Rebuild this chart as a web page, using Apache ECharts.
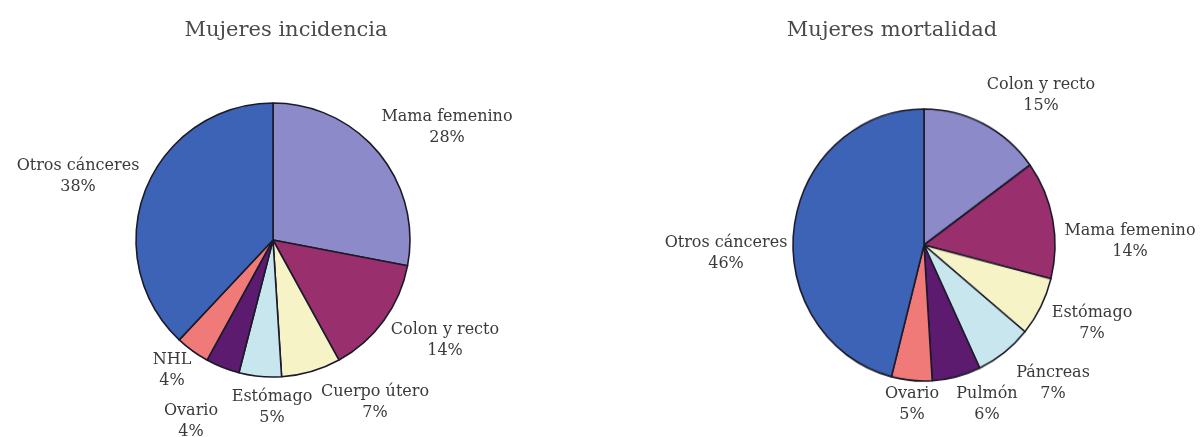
<!DOCTYPE html>
<html>
<head>
<meta charset="utf-8">
<script src="https://cdn.jsdelivr.net/npm/echarts@6/dist/echarts.min.js"></script>
<style>
  html, body { margin: 0; padding: 0; background: #ffffff; }
  #wrap { position: relative; width: 1202px; height: 437px; }
  #chart, #tartaDer { position: absolute; left: 0; top: 0; width: 1202px; height: 437px; }
</style>
</head>
<body>
<div id="wrap">
  <div id="chart"></div>
  <div id="tartaDer"></div>
</div>
<script>
// Incidencia (mujeres): slices clockwise from 12 o'clock
const incidenciaCategorias = ['Mama femenino', 'Colon y recto', 'Cuerpo útero', 'Estómago', 'Ovario', 'NHL', 'Otros cánceres'];
const incidenciaValores = [28, 14, 7, 5, 4, 4, 38];

// Mortalidad (mujeres): slices clockwise from 12 o'clock
const mortalidadCategorias = ['Colon y recto', 'Mama femenino', 'Estómago', 'Páncreas', 'Pulmón', 'Ovario', 'Otros cánceres'];
const mortalidadValores = [15, 14, 7, 7, 6, 5, 46];

const titulos = ['Mujeres incidencia', 'Mujeres mortalidad'];

// Slice fill colours, applied in slice order
const coloresPorciones = ['#8c8ac8', '#9a2f6e', '#f6f3c6', '#c8e6ee', '#5c1b6e', '#ef7a78', '#3c63b5'];

// Pie geometry (pixels); the right pie is drawn slightly taller than wide
const pieIzq = { cx: 273, cy: 240, r: 137, sy: 1 };
const pieDer = { cx: 924, cy: 245, r: 131, sy: 136 / 131 };

// Label block offsets from each pie's centre (pixels)
const etiquetasIzq = [[174, -113], [172, 100], [102, 162], [-1, 167], [-82, 181], [-101, 130], [-195, -64]];
const etiquetasDer = [[117, -150], [206, -4], [168, 78], [129, 138], [63, 159], [-12, 159], [-198, 8]];

const fuente = '"DejaVu Serif", "Liberation Serif", serif';

function serieTarta(cats, vals, geo, offsets, modo) {
  const conPorciones = modo !== 'soloEtiquetas';
  const conEtiquetas = modo !== 'soloPorciones';
  return {
    type: 'pie',
    center: [geo.cx, geo.cy],
    radius: [0, geo.r],
    startAngle: 90,
    clockwise: true,
    avoidLabelOverlap: false,
    animation: false,
    silent: true,
    itemStyle: conPorciones
      ? { borderColor: '#1c1a2a', borderWidth: 1.6 }
      : { borderWidth: 0, opacity: 0 },
    label: {
      show: conEtiquetas,
      position: 'outside',
      formatter: '{b}\n{c}%',
      fontFamily: fuente,
      fontSize: 16,
      lineHeight: 21,
      color: '#3a3a3a',
      align: 'center',
      opacity: 1
    },
    labelLine: { show: false },
    labelLayout: function (p) {
      const o = offsets[p.dataIndex];
      return { x: geo.cx + o[0], y: geo.cy + o[1], align: 'center', verticalAlign: 'middle' };
    },
    data: cats.map(function (c, i) {
      return {
        name: c,
        value: vals[i],
        itemStyle: { color: conPorciones ? coloresPorciones[i] : 'rgba(0,0,0,0)' },
        label: { color: '#3a3a3a' }
      };
    })
  };
}

const estiloTitulo = { fontFamily: fuente, fontSize: 21, fontWeight: 'normal', color: '#4a4a4a' };

// Main canvas: titles, left pie with labels, labels of the right pie
const chart = echarts.init(document.getElementById('chart'), null, { renderer: 'canvas' });
chart.setOption({
  backgroundColor: '#ffffff',
  title: [
    { text: titulos[0], left: 281, top: 15, textAlign: 'center', textStyle: estiloTitulo },
    { text: titulos[1], left: 887, top: 15, textAlign: 'center', textStyle: estiloTitulo }
  ],
  series: [
    serieTarta(incidenciaCategorias, incidenciaValores, pieIzq, etiquetasIzq, 'completa'),
    serieTarta(mortalidadCategorias, mortalidadValores, pieDer, etiquetasDer, 'soloEtiquetas')
  ]
});

// Right pie slices on their own layer, stretched vertically about the pie centre
const capa = document.getElementById('tartaDer');
capa.style.transformOrigin = pieDer.cx + 'px ' + pieDer.cy + 'px';
capa.style.transform = 'scaleY(' + pieDer.sy + ')';
const chartDer = echarts.init(capa, null, { renderer: 'canvas' });
chartDer.setOption({
  backgroundColor: 'transparent',
  series: [
    serieTarta(mortalidadCategorias, mortalidadValores, pieDer, etiquetasDer, 'soloPorciones')
  ]
});
</script>
</body>
</html>
